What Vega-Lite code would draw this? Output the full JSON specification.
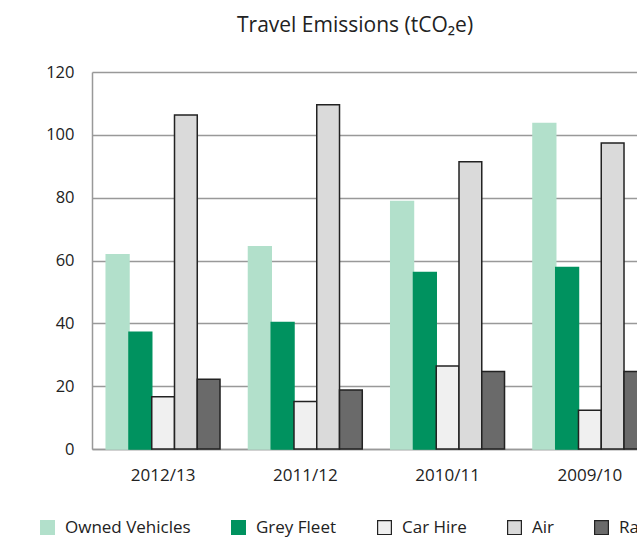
{
  "$schema": "https://vega.github.io/schema/vega-lite/v6.json",
  "width": 545,
  "height": 377,
  "autosize": {"type": "none"},
  "padding": {"left": 92, "top": 72, "right": 0, "bottom": 89},
  "background": "white",
  "config": {"view": {"stroke": null}, "font": "Open Sans"},
  "title": {"text": "Travel Emissions (tCO₂e)", "anchor": "start", "frame": "group", "dx": 145, "offset": 28, "fontSize": 21, "font": "Open Sans", "fontWeight": "normal", "color": "#222"},
  "data": {"values": [
    {"year": "2012/13", "type": "Owned Vehicles", "value": 61.8},
    {"year": "2012/13", "type": "Grey Fleet", "value": 37.2},
    {"year": "2012/13", "type": "Car Hire", "value": 16.6},
    {"year": "2012/13", "type": "Air", "value": 106.3},
    {"year": "2012/13", "type": "Rail", "value": 22.2},
    {"year": "2011/12", "type": "Owned Vehicles", "value": 64.4},
    {"year": "2011/12", "type": "Grey Fleet", "value": 40.3},
    {"year": "2011/12", "type": "Car Hire", "value": 15.1},
    {"year": "2011/12", "type": "Air", "value": 109.6},
    {"year": "2011/12", "type": "Rail", "value": 18.8},
    {"year": "2010/11", "type": "Owned Vehicles", "value": 78.8},
    {"year": "2010/11", "type": "Grey Fleet", "value": 56.2},
    {"year": "2010/11", "type": "Car Hire", "value": 26.4},
    {"year": "2010/11", "type": "Air", "value": 91.4},
    {"year": "2010/11", "type": "Rail", "value": 24.7},
    {"year": "2009/10", "type": "Owned Vehicles", "value": 103.6},
    {"year": "2009/10", "type": "Grey Fleet", "value": 57.8},
    {"year": "2009/10", "type": "Car Hire", "value": 12.3},
    {"year": "2009/10", "type": "Air", "value": 97.4},
    {"year": "2009/10", "type": "Rail", "value": 24.7}
  ]},
  "mark": {"type": "bar", "strokeWidth": 1.5},
  "encoding": {
    "x": {
      "field": "year", "type": "nominal",
      "scale": {"domain": ["2012/13", "2011/12", "2010/11", "2009/10"], "range": [0, 569], "paddingInner": 0.2, "paddingOuter": 0.1},
      "axis": {"title": null, "labelAngle": 0, "ticks": false, "labelPadding": 18, "labelFontSize": 17, "labelColor": "#222", "domainColor": "#999", "domainWidth": 1.5, "grid": false}
    },
    "xOffset": {"field": "type", "type": "nominal", "sort": ["Owned Vehicles", "Grey Fleet", "Car Hire", "Air", "Rail"], "scale": {"paddingInner": 0, "paddingOuter": 0}},
    "y": {
      "field": "value", "type": "quantitative",
      "scale": {"domain": [0, 120]},
      "axis": {"title": null, "values": [0, 20, 40, 60, 80, 100, 120], "ticks": false, "labelPadding": 18, "labelFontSize": 16.5, "labelColor": "#222", "domainColor": "#999", "domainWidth": 1.5, "gridColor": "#999", "gridWidth": 1.5}
    },
    "fill": {
      "field": "type", "type": "nominal",
      "scale": {"domain": ["Owned Vehicles", "Grey Fleet", "Car Hire", "Air", "Rail"], "range": ["#b2e0cb", "#00925f", "#f0f0f0", "#dadada", "#6a6a6a"]},
      "legend": {"title": null, "orient": "none", "direction": "horizontal", "legendX": -53, "legendY": 447, "symbolType": "square", "symbolSize": 190, "symbolStrokeWidth": 1.2, "labelFontSize": 17, "labelColor": "#222", "columnPadding": 38, "labelOffset": 9, "padding": 0}
    },
    "stroke": {
      "field": "type", "type": "nominal",
      "scale": {"domain": ["Owned Vehicles", "Grey Fleet", "Car Hire", "Air", "Rail"], "range": ["#b2e0cb", "#00925f", "#222222", "#222222", "#222222"]},
      "legend": {"title": null, "orient": "none", "direction": "horizontal", "legendX": -53, "legendY": 447, "symbolType": "square", "symbolSize": 190, "symbolStrokeWidth": 1.2, "labelFontSize": 17, "labelColor": "#222", "columnPadding": 38, "labelOffset": 9, "padding": 0}
    }
  }
}
